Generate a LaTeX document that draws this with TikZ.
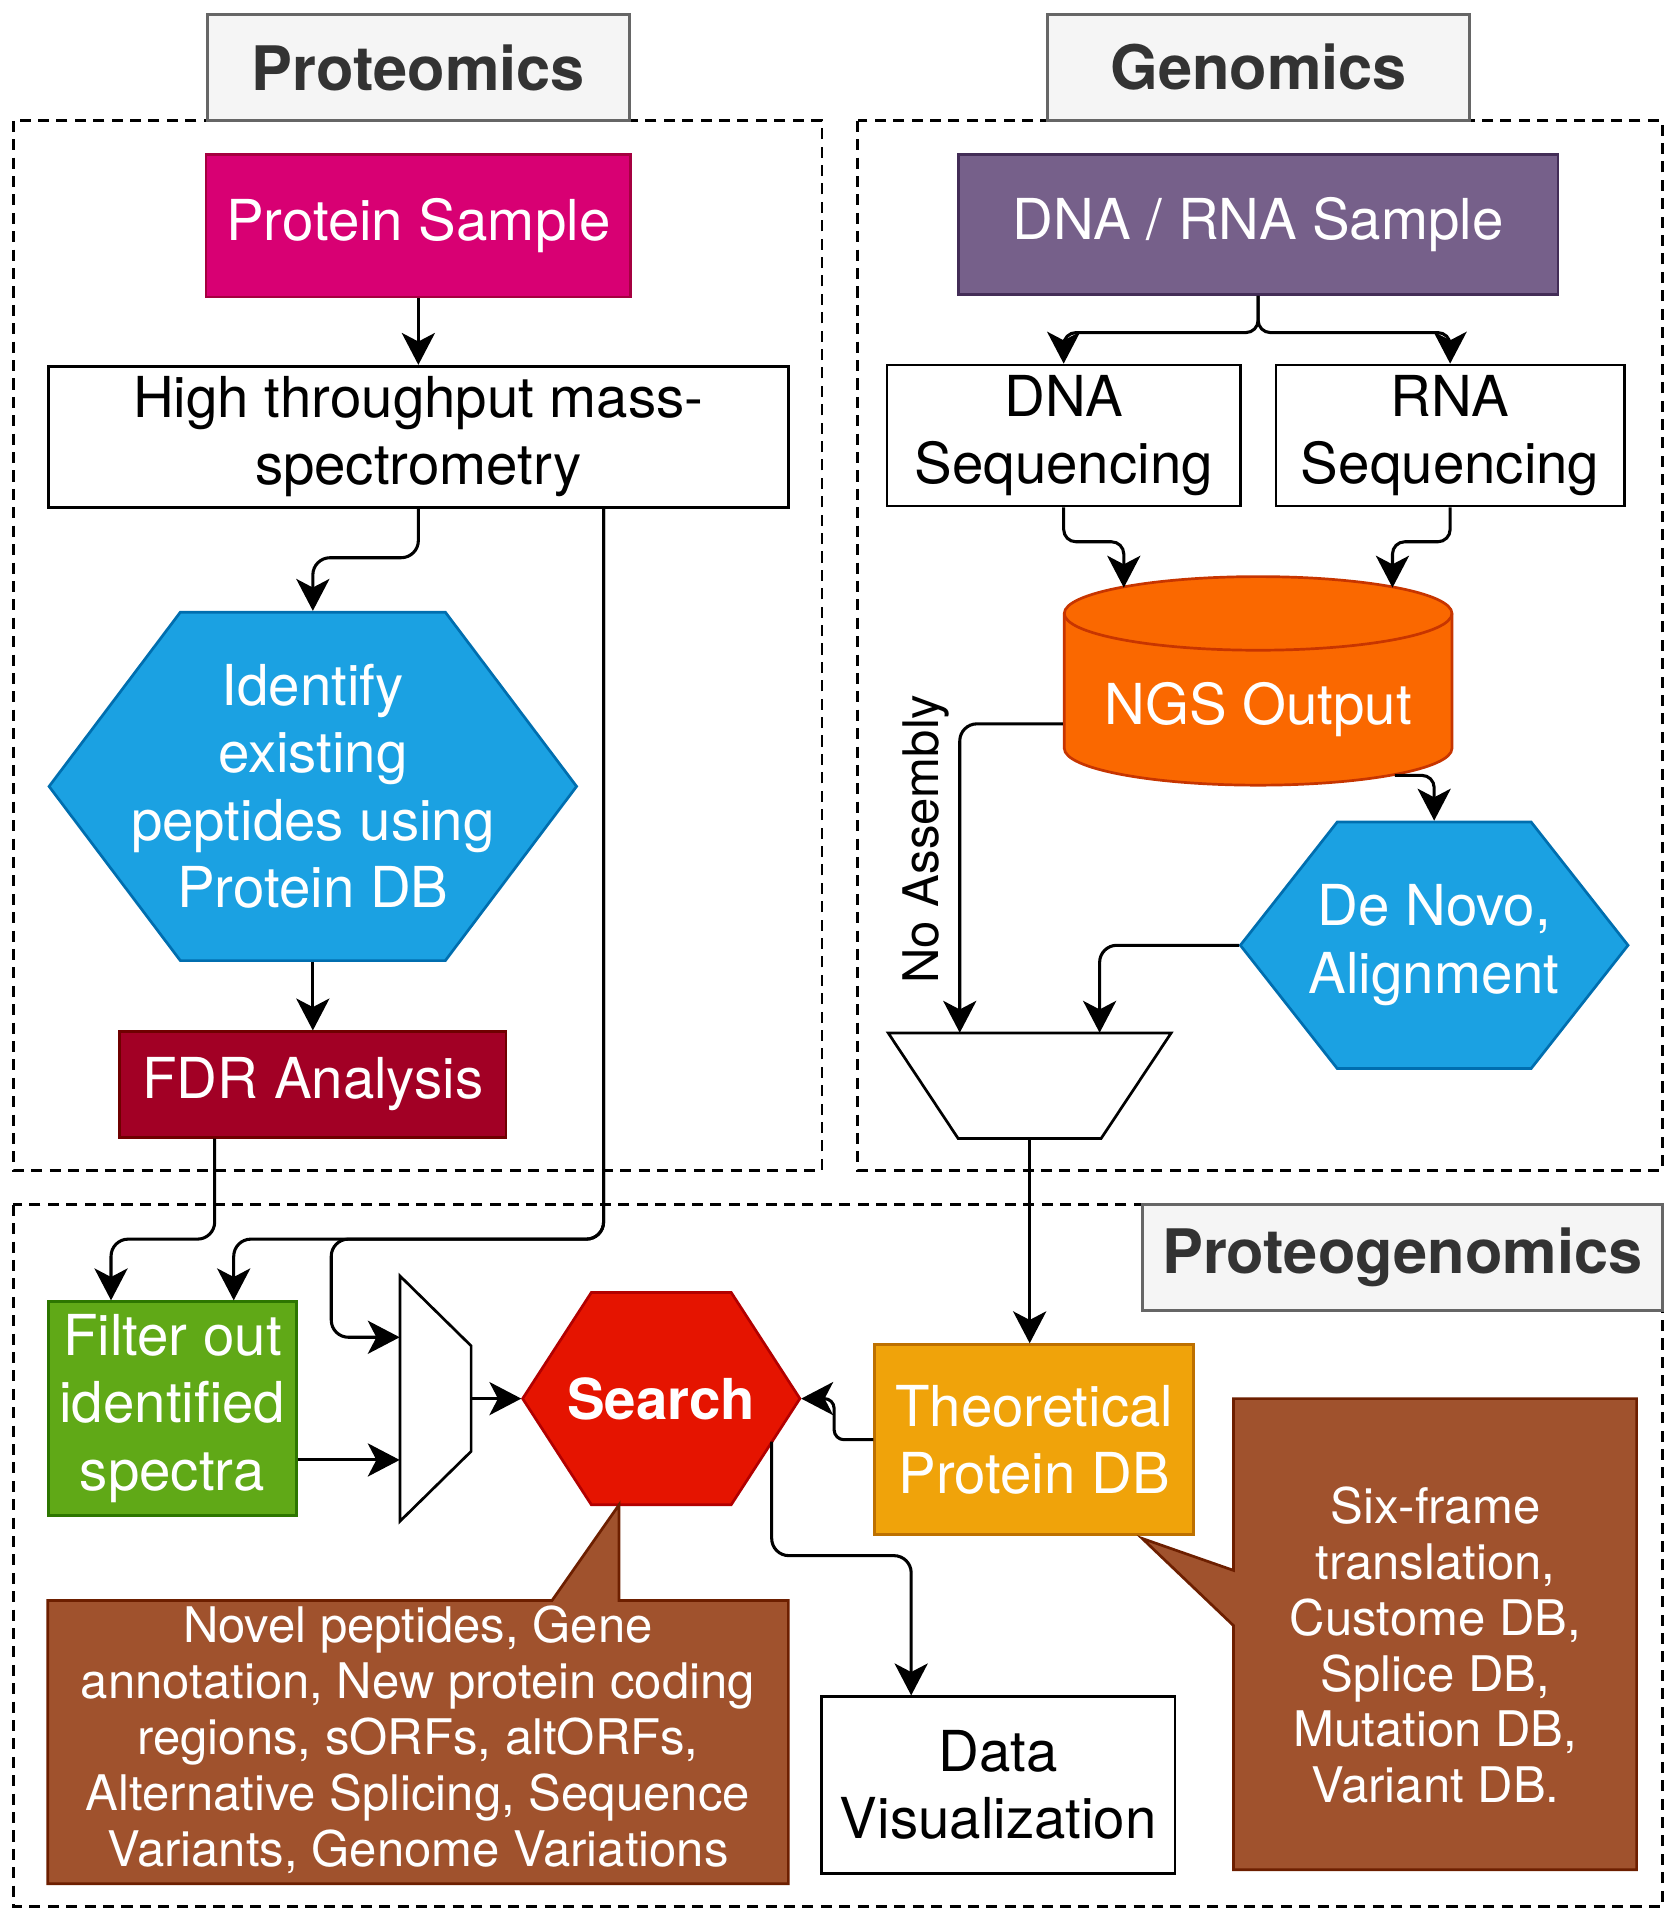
\documentclass[tikz,border=0pt]{standalone}
\usepackage{fontspec}
\setmainfont{TeX Gyre Heros}
\usetikzlibrary{arrows.meta,calc}

\definecolor{pinkF}{HTML}{D80073}\definecolor{pinkS}{HTML}{A50040}
\definecolor{purpF}{HTML}{76608A}\definecolor{purpS}{HTML}{432D57}
\definecolor{blueF}{HTML}{1BA1E2}\definecolor{blueS}{HTML}{006EAF}
\definecolor{crimF}{HTML}{A20025}\definecolor{crimS}{HTML}{6F0000}
\definecolor{orngF}{HTML}{FA6800}\definecolor{orngS}{HTML}{C73500}
\definecolor{grnF}{HTML}{60A917}\definecolor{grnS}{HTML}{2D7600}
\definecolor{redF}{HTML}{E51400}\definecolor{redS}{HTML}{B20000}
\definecolor{ambF}{HTML}{F0A30A}\definecolor{ambS}{HTML}{BD7000}
\definecolor{sienF}{HTML}{A0522D}\definecolor{sienS}{HTML}{6D1F00}
\definecolor{headF}{HTML}{F5F5F5}\definecolor{headS}{HTML}{666666}\definecolor{headT}{HTML}{333333}

\begin{document}
\begin{tikzpicture}[x=1pt, y=-1pt,
    txt/.style={align=center, inner sep=0pt, font=\fontsize{46}{55}\selectfont},
    colbox/.style={txt, text=white, line width=2.2pt},
    whitebox/.style={txt, draw=black, fill=white, line width=2.2pt},
    calltxt/.style={align=center, inner sep=0pt, text=white, font=\fontsize{40}{45.5}\selectfont},
    headbox/.style={draw=headS, fill=headF, line width=2.2pt, inner sep=0pt, minimum width=344pt, minimum height=86pt, text=headT, font=\fontsize{50}{60}\selectfont\bfseries},
    dashframe/.style={draw, line width=2.2pt, dash pattern=on 9pt off 6pt},
    shapeline/.style={line width=2.2pt},
    arr/.style={-{Stealth[length=26pt,width=27pt,inset=7pt]}, line width=2.5pt, rounded corners=14pt},
    ]
    \useasboundingbox (0,0) rectangle (1366,1565);

    % Frames
    \draw[dashframe] (11,98.5) rectangle (670,954);
    \draw[dashframe] (699,98.5) rectangle (1355,954);
    \draw[dashframe] (11,982) rectangle (1355,1554);

    % Titles
    \node[headbox] (protT) at (341,55) {Proteomics};
    \node[headbox] (genT) at (1026,55) {Genomics};
    \node[headbox, minimum width=424pt] (pgT) at (1143,1025) {Proteogenomics};

    % Proteomics
    \node[colbox, fill=pinkF, draw=pinkS, minimum width=346pt, minimum height=116pt] (sample) at (341,184) {Protein Sample};
    \node[whitebox, minimum width=603pt, minimum height=115pt] (hts) at (341,356) {High throughput mass-\\spectrometry};
    \draw[shapeline, fill=blueF, draw=blueS] (40,641) -- (147,499) -- (363,499) -- (470,641) -- (363,783) -- (147,783) -- cycle;
    \node[colbox, minimum width=430pt, minimum height=284pt] (identify) at (255,641) {Identify\\existing\\peptides using\\Protein DB};
    \node[colbox, fill=crimF, draw=crimS, minimum width=315pt, minimum height=86pt] (fdr) at (255,884) {FDR Analysis};

    % Genomics
    \node[colbox, fill=purpF, draw=purpS, minimum width=489pt, minimum height=114pt] (dnarna) at (1025.5,183) {DNA / RNA Sample};
    \node[whitebox, minimum width=288pt, minimum height=115pt] (dnaseq) at (867,355) {DNA\\Sequencing};
    \node[whitebox, minimum width=284pt, minimum height=115pt] (rnaseq) at (1182,355) {RNA\\Sequencing};
    \draw[shapeline, fill=orngF, draw=orngS] (867.5,500) -- (867.5,610) arc[start angle=180, end angle=360, x radius=158pt, y radius=30pt] -- (1183.5,500) arc[start angle=0, end angle=180, x radius=158pt, y radius=30pt] -- cycle;
    \draw[shapeline, draw=orngS] (867.5,500) arc[start angle=180, end angle=360, x radius=158pt, y radius=30pt];
    \node[colbox, minimum width=316pt] (ngs) at (1025.5,578) {NGS Output};
    \draw[shapeline, fill=blueF, draw=blueS] (1011,770.5) -- (1090,670) -- (1248,670) -- (1327,770.5) -- (1248,871) -- (1090,871) -- cycle;
    \node[colbox, minimum width=316pt, minimum height=201pt] (denovo) at (1169,770.5) {De Novo,\\Alignment};
    \draw[shapeline, fill=white] (724,842) -- (954.6,842) -- (897.5,928) -- (781,928) -- cycle;
    \node[minimum width=230.6pt, minimum height=86pt, inner sep=0pt] (merge) at (839.3,885) {};
    \node[rotate=90, inner sep=0pt, font=\fontsize{40}{48}\selectfont] (noasm) at (755,684) {No Assembly};

    % Proteogenomics
    \node[colbox, fill=grnF, draw=grnS, minimum width=202pt, minimum height=174pt] (filter) at (140.5,1148) {Filter out\\identified\\spectra};
    \draw[shapeline, fill=white] (326,1040) -- (384,1097) -- (384,1183) -- (326,1240) -- cycle;
    \node[minimum width=58pt, minimum height=200pt, inner sep=0pt] (mux) at (355,1140) {};
    \draw[shapeline, fill=redF, draw=redS] (426,1140) -- (482,1053.5) -- (596,1053.5) -- (652,1140) -- (596,1226.5) -- (482,1226.5) -- cycle;
    \node[colbox, minimum width=226pt, minimum height=173pt, font=\fontsize{46}{55}\selectfont\bfseries] (search) at (539,1140) {Search};
    \node[colbox, fill=ambF, draw=ambS, minimum width=260pt, minimum height=155pt] (thdb) at (843,1173.5) {Theoretical\\Protein DB};
    \node[whitebox, minimum width=288pt, minimum height=144pt] (datavis) at (813.7,1455) {Data\\Visualization};

    % Callouts
    \draw[shapeline, fill=sienF, draw=sienS] (39,1304.5) -- (450,1304.5) -- (504.6,1226.5) -- (504.6,1304.5) -- (642.6,1304.5) -- (642.6,1535.5) -- (39,1535.5) -- cycle;
    \node[calltxt] (novel) at (340.7,1418) {Novel peptides, Gene\\annotation, New protein coding\\regions, sORFs, altORFs,\\Alternative Splicing, Sequence\\Variants, Genome Variations};
    \draw[shapeline, fill=sienF, draw=sienS] (1005.4,1140) -- (1334,1140) -- (1334,1524) -- (1005.4,1524) -- (1005.4,1325) -- (931,1254) -- (1005.4,1280) -- cycle;
    \node[calltxt] (dbtypes) at (1170,1341) {Six-frame\\translation,\\Custome DB,\\Splice DB,\\Mutation DB,\\Variant DB.};

    % Connector ends
    \coordinate (ngsin1) at (916,479);
    \coordinate (ngsin2) at (1135,479);
    \coordinate (ngsout) at (1137,632);
    \coordinate (srchout) at (629,1175);

    % Connectors, proteomics
    \draw[arr] (sample.south) -- (hts.north);
    \draw[arr] (hts.south) -- ++(0,40) -| (identify.north);
    \draw[arr] (identify.south) -- (fdr.north);
    \draw[arr] ([xshift=-80pt]fdr.south) -- (175,1010) -- (90.5,1010) -- ([xshift=-50pt]filter.north);
    \draw[arr] ([xshift=151pt]hts.south) -- (492,1010) -- (190.5,1010) -- ([xshift=50pt]filter.north);
    \draw[arr] ([xshift=151pt]hts.south) -- (492,1010) -- (270,1010) -- (270,1090) -- ([yshift=50pt]mux.west);

    % Connectors, genomics
    \draw[arr, rounded corners=10pt] (dnarna.south) -- ++(0,30) -| (dnaseq.north);
    \draw[arr, rounded corners=10pt] (dnarna.south) -- ++(0,30) -| (rnaseq.north);
    \draw[arr, rounded corners=10pt] (dnaseq.south) -- ++(0,28) -| (ngsin1);
    \draw[arr, rounded corners=10pt] (rnaseq.south) -- ++(0,28) -| (ngsin2);
    \draw[arr] ([yshift=-12pt]ngs.west) -| ([xshift=-57pt]merge.north);
    \draw[arr, rounded corners=10pt] (ngsout) -| (denovo.north);
    \draw[arr] (denovo.west) -| ([xshift=57pt]merge.north);

    % Connectors, proteogenomics
    \draw[arr] (merge.south) -- (merge.south |- thdb.north);
    \draw[arr] ([yshift=-42pt]filter.east) -- ([yshift=-50pt]mux.west);
    \draw[arr] (mux.east) -- (search.west);
    \draw[arr, rounded corners=8pt] (thdb.west) -- ++(-32,0) |- (search.east);
    \draw[arr] (srchout) -- (629,1268) -- (742.7,1268) -- ([xshift=-71pt]datavis.north);
\end{tikzpicture}
\end{document}
